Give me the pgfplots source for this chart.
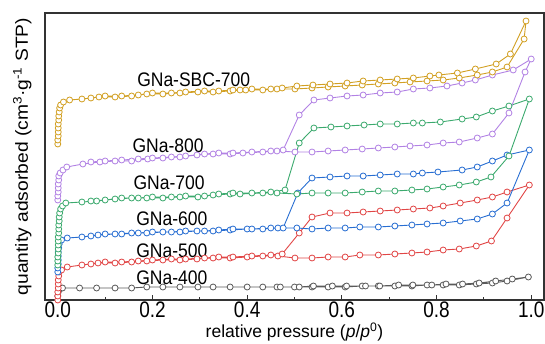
\documentclass[border=0pt]{standalone}
\usepackage{fontspec}
\setmainfont{Liberation Sans}
\usepackage{pgfplots}
\pgfplotsset{compat=1.18}
\definecolor{cgold}{RGB}{210,160,35}
\definecolor{cpurple}{RGB}{178,130,228}
\definecolor{cgreen}{RGB}{60,170,110}
\definecolor{cblue}{RGB}{40,110,210}
\definecolor{cred}{RGB}{225,70,70}
\definecolor{cgray}{RGB}{90,90,90}
\tikzset{lab/.style={font=\fontsize{17.5bp}{20bp}\selectfont, yscale=1.12}}
\begin{document}
\begin{tikzpicture}
\begin{axis}[
 scale only axis, width=499bp, height=287bp,
 xmin=-0.027, xmax=1.027, ymin=0, ymax=287,
 axis line style={line width=1.1bp, black!80},
 ytick=\empty,
 xtick={0,0.2,0.4,0.6,0.8,1},
 xticklabels={0.0,0.2,0.4,0.6,0.8,1.0},
 minor xtick={0.1,0.3,0.5,0.7,0.9},
 xtick pos=bottom, tick align=inside,
 major tick length=5bp, minor tick length=3bp,
 tick style={line width=1bp, black!80},
 /pgf/number format/assume math mode=true,
 ticklabel style={font=\fontsize{19bp}{21bp}\selectfont, yscale=1.18},
 xticklabel style={yshift=2bp},
 xlabel={relative pressure (\textit{p}/\textit{p}\textsuperscript{0})},
 ylabel={quantity adsorbed (cm\textsuperscript{3}·g\textsuperscript{-1} STP)},
 label style={font=\fontsize{17.5bp}{20bp}\selectfont},
 xlabel style={at={(axis description cs:0.5,-0.075)}, anchor=north, inner sep=1bp},
 ylabel style={at={(axis description cs:-0.02,0.5)}, anchor=south, xscale=1.1},
 clip=false,
 every axis plot/.append style={line width=0.9bp, mark=*, mark size=3bp, mark options={fill=white, line width=0.8bp}},
]
% GNa-400
\addplot[cgray] coordinates {(0.000,4)(0.001,8)(0.004,11)(0.010,12)(0.046,12)(0.082,12)(0.121,12)(0.156,12)(0.188,13)(0.222,13)(0.258,13)(0.296,13)(0.328,13)(0.364,13)(0.400,13)(0.433,13)(0.463,13)(0.50,13)(0.537,13)(0.571,13)(0.607,13)(0.643,14)(0.677,14)(0.712,14)(0.748,14)(0.780,15)(0.814,15)(0.848,15)(0.884,16)(0.918,17)(0.949,19)(0.994,23)
(0.960,21)(0.925,19)(0.890,17)(0.855,16)(0.820,16)(0.79,15)(0.75,15)(0.72,15)(0.68,14)(0.65,14)(0.61,14)(0.58,14)(0.54,14)(0.51,13)(0.47,13)};
% GNa-500
\addplot[cred] coordinates {(0.000,0)(0.000,4)(0.000,8)(0.001,12)(0.001,16)(0.001,20)(0.002,24)(0.003,28)(0.008,30)(0.020,33)(0.051,35)(0.085,37)(0.121,37)(0.156,38)(0.188,39)(0.222,40)(0.258,40)(0.294,41)(0.328,42)(0.364,42)(0.400,43)(0.433,44)(0.465,44)(0.501,42)(0.537,42)(0.571,43)(0.607,43)(0.638,45)(0.677,45)(0.712,46)(0.748,47)(0.780,48)(0.814,50)(0.848,51)(0.884,54)(0.916,59)(0.949,82)(0.996,115)
(0.949,108)(0.918,103)(0.886,100)(0.850,97)(0.814,94)(0.786,92)(0.751,91)(0.717,90)(0.681,89)(0.645,88)(0.611,87)(0.575,87)(0.537,83)(0.510,67)(0.474,46)(0.45,45)(0.41,44)(0.37,43)(0.34,43)(0.31,42)(0.27,41)(0.24,41)(0.20,40)(0.17,39)(0.135,38)(0.10,38)(0.07,36)};
% GNa-600
\addplot[cblue] coordinates {(0.000,28)(0.000,32)(0.001,36)(0.001,40)(0.001,44)(0.001,48)(0.002,52)(0.003,56)(0.008,60)(0.020,62)(0.051,63)(0.085,65)(0.121,66)(0.156,67)(0.188,67)(0.222,68)(0.258,68)(0.294,69)(0.328,69)(0.364,70)(0.400,71)(0.433,71)(0.465,72)(0.505,72)(0.537,71)(0.571,72)(0.607,72)(0.638,73)(0.677,73)(0.712,74)(0.748,75)(0.780,76)(0.814,77)(0.850,79)(0.886,81)(0.918,86)(0.949,97)(0.996,150)
(0.949,145)(0.918,139)(0.886,133)(0.854,130)(0.803,128)(0.770,127)(0.751,126)(0.717,126)(0.681,125)(0.645,124)(0.611,124)(0.575,123)(0.537,122)(0.507,107)(0.476,72)(0.45,72)(0.41,71)(0.37,71)(0.34,70)(0.31,69)(0.27,69)(0.24,68)(0.20,68)(0.17,67)(0.135,66)(0.10,66)(0.07,64)};
% GNa-700
\addplot[cgreen] coordinates {(0.000,35)(0.000,39)(0.000,43)(0.001,47)(0.001,51)(0.001,55)(0.001,59)(0.001,63)(0.002,67)(0.002,71)(0.002,75)(0.003,79)(0.003,83)(0.004,87)(0.006,91)(0.010,94)(0.017,97)(0.051,98)(0.082,99)(0.121,101)(0.156,102)(0.188,102)(0.222,102)(0.258,103)(0.296,103)(0.328,105)(0.364,106)(0.385,106)(0.433,107)(0.463,107)(0.505,106)(0.537,107)(0.571,107)(0.607,107)(0.643,108)(0.677,109)(0.712,109)(0.748,110)(0.780,111)(0.814,113)(0.848,115)(0.884,118)(0.915,123)(0.953,144)(0.996,201)
(0.953,194)(0.918,189)(0.884,183)(0.854,181)(0.808,178)(0.770,177)(0.751,177)(0.717,176)(0.681,176)(0.647,175)(0.611,174)(0.577,173)(0.541,172)(0.510,157)(0.480,110)(0.45,108)(0.41,107)(0.37,107)(0.34,106)(0.31,104)(0.27,104)(0.24,103)(0.20,103)(0.17,102)(0.135,102)(0.10,100)(0.07,99)};
% GNa-800
\addplot[cpurple] coordinates {(0.000,100)(0.000,104)(0.001,108)(0.001,112)(0.001,116)(0.002,120)(0.002,124)(0.005,127)(0.011,130)(0.019,133)(0.053,136)(0.089,138)(0.121,139)(0.156,139)(0.190,141)(0.222,142)(0.258,143)(0.294,145)(0.328,146)(0.364,146)(0.391,147)(0.433,148)(0.463,149)(0.501,148)(0.537,148)(0.571,149)(0.607,150)(0.643,151)(0.677,152)(0.712,153)(0.744,154)(0.780,155)(0.814,157)(0.848,158)(0.886,162)(0.918,166)(0.953,187)(0.987,228)(1.000,241)
(0.962,230)(0.918,225)(0.882,220)(0.854,217)(0.822,214)(0.786,212)(0.751,211)(0.717,208)(0.681,207)(0.645,205)(0.611,204)(0.575,202)(0.541,200)(0.510,185)(0.476,150)(0.45,149)(0.41,148)(0.37,147)(0.34,147)(0.31,146)(0.27,144)(0.24,143)(0.20,142)(0.17,141)(0.135,140)(0.10,139)(0.07,138)};
% GNa-SBC-700
\addplot[cgold] coordinates {(0.000,156)(0.000,160)(0.001,164)(0.001,168)(0.001,172)(0.001,176)(0.002,180)(0.002,184)(0.003,188)(0.004,192)(0.006,195)(0.012,198)(0.025,200)(0.051,201)(0.087,203)(0.121,203)(0.156,204)(0.188,206)(0.222,206)(0.258,207)(0.296,208)(0.328,208)(0.364,209)(0.385,210)(0.397,210)(0.433,210)(0.463,211)(0.501,211)(0.537,212)(0.571,213)(0.607,214)(0.643,215)(0.677,216)(0.712,217)(0.744,218)(0.780,219)(0.814,220)(0.848,222)(0.886,225)(0.918,228)(0.949,233)(0.985,261)(0.989,279)
(0.956,246)(0.926,236)(0.882,231)(0.844,227)(0.805,225)(0.786,224)(0.751,222)(0.717,221)(0.681,220)(0.645,219)(0.611,217)(0.575,216)(0.539,215)(0.505,214)(0.474,212)(0.45,211)(0.41,211)(0.37,210)(0.34,209)(0.31,209)(0.27,208)(0.24,207)(0.20,207)(0.17,205)(0.135,204)(0.10,204)(0.07,202)};
\node[lab] at (axis cs:0.287,220) {GNa-SBC-700};
\node[lab] at (axis cs:0.233,154) {GNa-800};
\node[lab] at (axis cs:0.235,117) {GNa-700};
\node[lab] at (axis cs:0.241,81) {GNa-600};
\node[lab] at (axis cs:0.241,49) {GNa-500};
\node[lab] at (axis cs:0.241,22) {GNa-400};
\end{axis}
\pgfresetboundingbox
\path ([xshift=-45bp,yshift=-44bp]current axis.south west) rectangle ([xshift=1bp,yshift=13bp]current axis.north east);
\end{tikzpicture}
\end{document}
